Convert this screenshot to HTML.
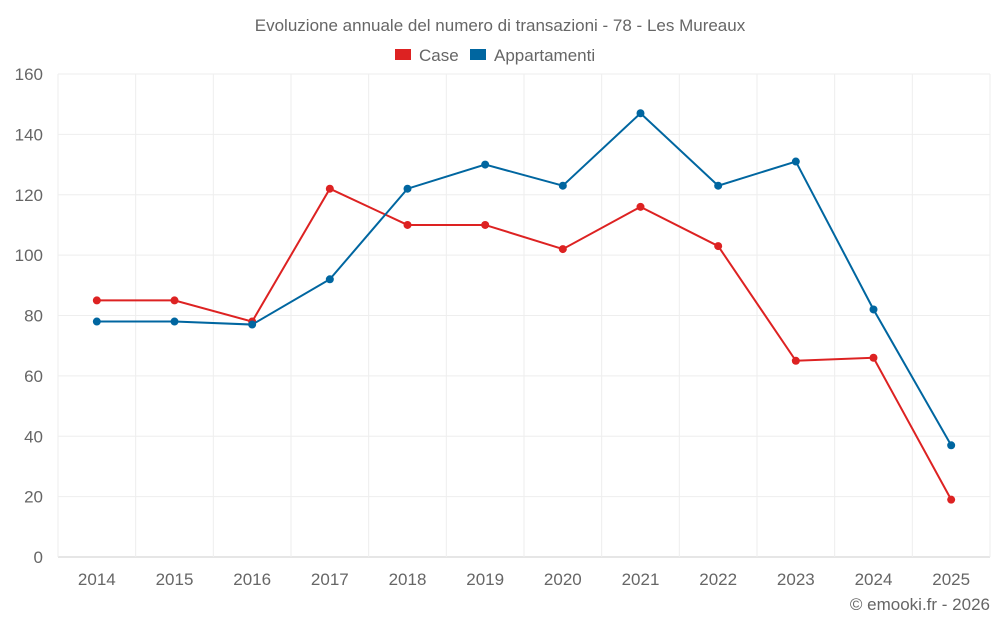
<!DOCTYPE html>
<html><head><meta charset="utf-8"><style>
body{margin:0;background:#fff;font-family:"Liberation Sans",sans-serif;}
svg text{font-family:"Liberation Sans",sans-serif;fill:#666;}
</style></head><body>
<svg width="1000" height="625">
<text x="500" y="31" text-anchor="middle" font-size="17">Evoluzione annuale del numero di transazioni - 78 - Les Mureaux</text>
<g>
<rect x="395" y="49" width="16" height="11" fill="#dd2222"/>
<text x="419" y="61" font-size="17">Case</text>
<rect x="470" y="49" width="16" height="11" fill="#0066a0"/>
<text x="494" y="61" font-size="17">Appartamenti</text>
</g>
<g id="grid"></g><g id="axes"></g><g id="series"></g>
<text x="990" y="610" text-anchor="end" font-size="17">© emooki.fr - 2026</text>
</svg>
<script>
const categories=["2014","2015","2016","2017","2018","2019","2020","2021","2022","2023","2024","2025"];
const caseValues=[85,85,78,122,110,110,102,116,103,65,66,19];
const appValues=[78,78,77,92,122,130,123,147,123,131,82,37];
const yTicks=[0,20,40,60,80,100,120,140,160];
const NS="http://www.w3.org/2000/svg";
const L=58,R=990,T=74,B=557,yMax=160;
const bw=(R-L)/categories.length;
const x=i=>L+(i+0.5)*bw;
const y=v=>B-(v/yMax)*(B-T);
function mk(tag,attrs,parent){const e=document.createElementNS(NS,tag);for(const k in attrs)e.setAttribute(k,attrs[k]);parent.appendChild(e);return e;}
const grid=document.getElementById('grid'),axes=document.getElementById('axes'),ser=document.getElementById('series');
yTicks.forEach(t=>{
 const l=mk('line',{x1:L,x2:R,y1:y(t),y2:y(t),stroke:t===0?'#ccc':'#eee'},grid);
 
 
 const tx=mk('text',{x:43,y:y(t)+6,'text-anchor':'end','font-size':17},axes);
 tx.textContent=t;
 
 
});
for(let i=0;i<=categories.length;i++){
 const l=mk('line',{x1:L+i*bw,x2:L+i*bw,y1:T,y2:B,stroke:'#eee'},grid);
 
 
}
categories.forEach((c,i)=>{
 const tx=mk('text',{x:x(i),y:585,'text-anchor':'middle','font-size':17},axes);
 tx.textContent=c;
 
 
});
function drawSeries(vals,color,name){
 const p=mk('polyline',{points:vals.map((v,i)=>x(i)+','+y(v)).join(' '),fill:'none',stroke:color,'stroke-width':2},ser);
 
 
 vals.forEach((v,i)=>{
  const c=mk('circle',{cx:x(i),cy:y(v),r:4,fill:color},ser);
  
  
 });
}
drawSeries(caseValues,'#dd2222','case');
drawSeries(appValues,'#0066a0','appartamenti');
</script>
</body></html>
